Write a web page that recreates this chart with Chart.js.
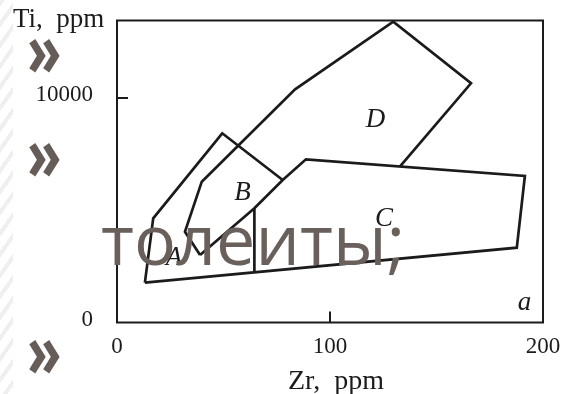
<!DOCTYPE html>
<html>
<head>
<meta charset="utf-8">
<script src="https://cdn.jsdelivr.net/npm/chart.js@4.4.1/dist/chart.umd.min.js"></script>
<style>
html,body{margin:0;padding:0;background:#fff}
#wrap{position:relative;width:563px;height:394px;overflow:hidden;background:#fff}
#edge{position:absolute;left:0;top:0;width:13px;height:394px;background:repeating-linear-gradient(125deg,#efefef 0 4px,#fff 4px 12px)}
#plot{position:absolute;left:0;top:0;width:563px;height:394px}
.mark{position:absolute;left:27px;font:bold 64px 'Open Sans',sans-serif;color:#675d58;line-height:1;transform:scale(0.88,1.15);transform-origin:0 60%}
#note{position:absolute;left:101px;top:203px;font:70px 'Open Sans',sans-serif;color:#6a605b;line-height:1;white-space:nowrap}
</style>
</head>
<body>
<div id="wrap">
  <div id="edge"></div>
  <div id="plot"><canvas id="c"></canvas></div>
  <div class="mark" style="top:17px">»</div>
  <div class="mark" style="top:121px">»</div>
  <div class="mark" style="top:318px">»</div>
  <div id="note">толеиты;</div>
</div>
<script>
const xTicks = [0, 100, 200]
const yTicks = [0, 10000]
const xMax = 200
const yMax = 13450

// field outlines (Zr ppm, Ti ppm)
const abZr = [13.1, 17.0, 49.4, 77.8]
const abTi = [1773, 4641, 8427, 6347]
const dZr = [39.0, 31.9, 39.8, 83.6, 129.7, 166.2, 132.9]
const dTi = [3006, 4044, 6271, 10387, 13398, 10654, 6950]
const cZr = [39.0, 64.5, 77.8, 88.7, 191.5, 187.7, 13.1]
const cTi = [3006, 5086, 6347, 7269, 6525, 3332, 1773]
const aZr = [64.5, 64.5]
const aTi = [5086, 2231]

const fieldNames = ['A', 'B', 'C', 'D']
const fieldZr = [26.8, 58.9, 125.4, 121.4]
const fieldTi = [2895, 5790, 4610, 9019]
const panelTag = 'a'

const ink = '#1b1b1b'
const serif = "'Liberation Serif','Times New Roman',serif"

const pts = (xs, ys) => xs.map((x, i) => ({x, y: ys[i]}))
const outline = (xs, ys) => ({
  data: pts(xs, ys), showLine: true, borderColor: ink, borderWidth: 2.7,
  pointRadius: 0, fill: false, tension: 0
})

const frame = {
  id: 'frame',
  afterDraw(chart){
    const {ctx, chartArea: a, scales: {x, y}} = chart
    ctx.save()
    ctx.strokeStyle = ink
    ctx.lineWidth = 2
    ctx.strokeRect(a.left, a.top, a.right - a.left, a.bottom - a.top)
    // inner tick marks
    ctx.beginPath()
    const xm = x.getPixelForValue(100)
    ctx.moveTo(xm, a.bottom); ctx.lineTo(xm, a.bottom - 11)
    const ym = y.getPixelForValue(10000)
    ctx.moveTo(a.left, ym); ctx.lineTo(a.left + 11, ym)
    ctx.stroke()

    ctx.fillStyle = ink
    ctx.font = `27px ${serif}`
    ctx.textAlign = 'left'
    ctx.textBaseline = 'alphabetic'
    ctx.fillText('Ti,  ppm', 13, 26.5)
    ctx.font = `28px ${serif}`
    ctx.textAlign = 'center'
    ctx.fillText('Zr,  ppm', 336, 389)

    ctx.font = `italic 27px ${serif}`
    ctx.textBaseline = 'middle'
    fieldNames.forEach((n, i) => {
      ctx.fillText(n, x.getPixelForValue(fieldZr[i]), y.getPixelForValue(fieldTi[i]))
    })
    ctx.textBaseline = 'alphabetic'
    ctx.fillText(panelTag, x.getPixelForValue(191.3), y.getPixelForValue(557))
    ctx.restore()
  }
}

const noPad = s => { s.paddingTop = 0; s.paddingBottom = 0; s.paddingLeft = 0; s.paddingRight = 0 }

new Chart(document.getElementById('c'), {
  type: 'scatter',
  data: {
    datasets: [
      outline(abZr, abTi),
      outline(dZr, dTi),
      outline(cZr, cTi),
      outline(aZr, aTi)
    ]
  },
  options: {
    responsive: true,
    maintainAspectRatio: false,
    animation: false,
    layout: {padding: {top: 20.5, right: 20, left: 0, bottom: 0}},
    plugins: {legend: {display: false}, tooltip: {enabled: false}},
    scales: {
      x: {
        type: 'linear', min: 0, max: xMax,
        afterBuildTicks: s => { s.ticks = xTicks.map(v => ({value: v})) },
        afterFit: s => { s.height = 71.5; noPad(s) },
        grid: {display: false}, border: {display: false},
        ticks: {color: ink, padding: 3, maxRotation: 0, callback: v => String(v), font: {family: serif, size: 23}}
      },
      y: {
        type: 'linear', min: 0, max: yMax,
        afterBuildTicks: s => { s.ticks = yTicks.map(v => ({value: v})) },
        afterFit: s => { s.width = 117; noPad(s) },
        grid: {display: false}, border: {display: false},
        ticks: {color: ink, padding: 16, labelOffset: -3, callback: v => String(v), font: {family: serif, size: 23}}
      }
    }
  },
  plugins: [frame]
})
</script>
</body>
</html>
